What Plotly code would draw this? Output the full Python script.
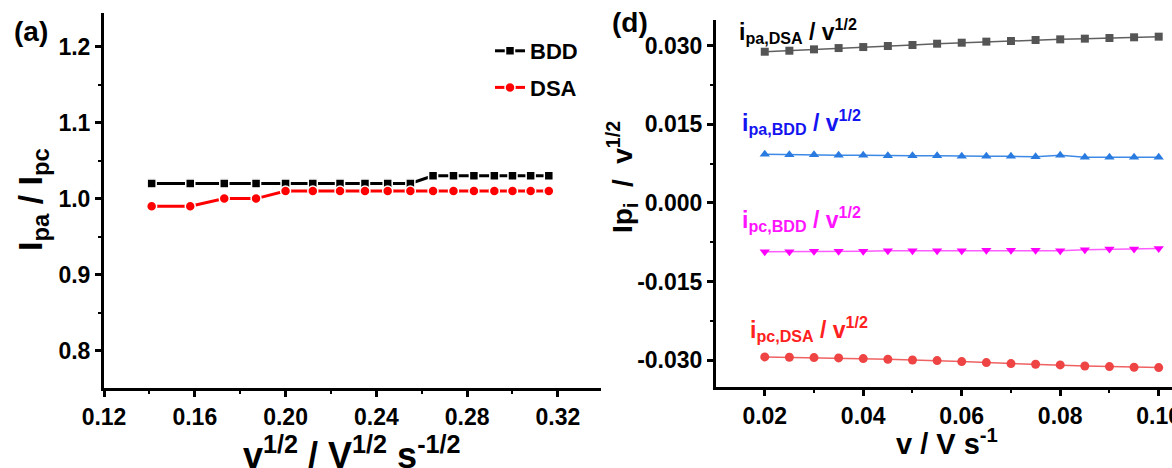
import plotly.graph_objects as go

FONT = "Liberation Sans, Arial, sans-serif"

# ---------- panel (a) data ----------
sqrt_v = [0.141, 0.158, 0.173, 0.187, 0.200, 0.212, 0.224, 0.235, 0.245,
          0.255, 0.265, 0.274, 0.283, 0.292, 0.300, 0.308, 0.316]
ratio_bdd = [1.02, 1.02, 1.02, 1.02, 1.02, 1.02, 1.02, 1.02, 1.02,
             1.02, 1.03, 1.03, 1.03, 1.03, 1.03, 1.03, 1.03]
ratio_dsa = [0.99, 0.99, 1.00, 1.00, 1.01, 1.01, 1.01, 1.01, 1.01,
             1.01, 1.01, 1.01, 1.01, 1.01, 1.01, 1.01, 1.01]

# ---------- panel (d) data ----------
scan_rate = [0.020, 0.025, 0.030, 0.035, 0.040, 0.045, 0.050, 0.055, 0.060,
             0.065, 0.070, 0.075, 0.080, 0.085, 0.090, 0.095, 0.100]
ipa_dsa = [0.02885, 0.02904, 0.02930, 0.02955, 0.02974, 0.02994, 0.03013, 0.03038, 0.03057,
           0.03077, 0.03089, 0.03109, 0.03121, 0.03134, 0.03147, 0.03160, 0.03172]
ipa_bdd = [0.0093, 0.0092, 0.0092, 0.0091, 0.0091, 0.0090, 0.0090, 0.0090, 0.0089,
           0.0089, 0.0089, 0.0088, 0.0091, 0.0087, 0.0087, 0.0087, 0.0087]
ipc_bdd = [-0.0093, -0.0093, -0.0092, -0.0092, -0.0092, -0.0091, -0.0091, -0.0091, -0.0091,
           -0.0090, -0.0090, -0.0090, -0.0091, -0.0089, -0.0088, -0.0088, -0.0087]
ipc_dsa = [-0.02936, -0.02943, -0.02949, -0.02955, -0.02968, -0.02981, -0.02994, -0.03006, -0.03026,
           -0.03045, -0.03064, -0.03077, -0.03089, -0.03109, -0.03121, -0.03134, -0.03140]

right_ytick_vals = [-0.030, -0.015, 0.000, 0.015, 0.030]
right_ytick_text = ["-0.030", "-0.015", "0.000", "0.015", "0.030"]

fig = go.Figure()

# panel (a)
fig.add_trace(go.Scatter(
    x=sqrt_v, y=ratio_bdd, mode="lines+markers", name="<b>BDD</b>",
    line=dict(color="black", width=3),
    marker=dict(symbol="square", size=9, color="black", line=dict(color="white", width=1.5)),
    xaxis="x", yaxis="y", legendgroup="a"))
fig.add_trace(go.Scatter(
    x=sqrt_v, y=ratio_dsa, mode="lines+markers", name="<b>DSA</b>",
    line=dict(color="#ff0000", width=3),
    marker=dict(symbol="circle", size=10, color="#ff0000", line=dict(color="white", width=1.5)),
    xaxis="x", yaxis="y", legendgroup="b"))

# panel (d)
fig.add_trace(go.Scatter(
    x=scan_rate, y=ipa_dsa, mode="lines+markers", showlegend=False,
    line=dict(color="#606060", width=1.5),
    marker=dict(symbol="square", size=8, color="#555555"),
    xaxis="x2", yaxis="y2"))
fig.add_trace(go.Scatter(
    x=scan_rate, y=ipa_bdd, mode="lines+markers", showlegend=False,
    line=dict(color="#3d8ae6", width=1.5),
    marker=dict(symbol="triangle-up", size=9, color="#2a7be0"),
    xaxis="x2", yaxis="y2"))
fig.add_trace(go.Scatter(
    x=scan_rate, y=ipc_bdd, mode="lines+markers", showlegend=False,
    line=dict(color="#ff5cff", width=1.5),
    marker=dict(symbol="triangle-down", size=9, color="#ff00ff"),
    xaxis="x2", yaxis="y2"))
fig.add_trace(go.Scatter(
    x=scan_rate, y=ipc_dsa, mode="lines+markers", showlegend=False,
    line=dict(color="#f06262", width=1.5),
    marker=dict(symbol="circle", size=9, color="#ee4444"),
    xaxis="x2", yaxis="y2"))

axis_common = dict(
    showline=True, linecolor="black", linewidth=3, mirror=False,
    showgrid=False, zeroline=False, automargin=False,
    ticks="outside", ticklen=6, tickwidth=2.5, tickcolor="black",
    ticklabeloverflow="allow",
    tickfont=dict(family=FONT, size=23, color="black", weight=700),
)
minor_common = dict(ticks="outside", ticklen=3, tickwidth=2, tickcolor="black")

W, H = 1172, 468
fig.update_layout(
    width=W, height=H,
    margin=dict(l=0, r=0, t=0, b=0, autoexpand=False),
    paper_bgcolor="white", plot_bgcolor="white",
    font=dict(family=FONT, color="black"),
    xaxis=dict(axis_common, domain=[104 / W, 601 / W], range=[0.12, 0.339],
               tick0=0.12, dtick=0.04, tickformat=".2f", anchor="y",
               minor=dict(minor_common, dtick=0.02)),
    yaxis=dict(axis_common, domain=[1 - 388 / H, 1 - 13 / H], range=[0.751, 1.244],
               tick0=0.8, dtick=0.1, tickformat=".1f", anchor="x",
               minor=dict(minor_common, dtick=0.05)),
    xaxis2=dict(axis_common, domain=[716 / W, 1.0], range=[0.0101, 0.1027],
                tick0=0.02, dtick=0.02, tickformat=".2f", anchor="y2",
                minor=dict(minor_common, dtick=0.01)),
    yaxis2=dict(axis_common, domain=[1 - 387 / H, 1 - 20 / H], range=[-0.0351, 0.0349],
                tickvals=right_ytick_vals, ticktext=right_ytick_text, anchor="x2",
                minor=dict(minor_common, tickvals=[-0.0225, -0.0075, 0.0075, 0.0225])),
    legend=dict(x=490 / W, y=1 - 30 / H, xanchor="left", yanchor="top",
                bgcolor="rgba(0,0,0,0)", tracegroupgap=5,
                font=dict(family=FONT, size=22, color="black")),
    showlegend=True,
)

ann = []
def add_text(text, x, y, size, color="black", angle=0, xanchor="center", yanchor="middle"):
    ann.append(dict(text=text, x=x / W, y=1 - y / H, xref="paper", yref="paper",
                    showarrow=False, textangle=angle, xanchor=xanchor, yanchor=yanchor,
                    font=dict(family=FONT, size=size, color=color)))

add_text("<b>(a)</b>", 31, 32, 28)
add_text("<b>(d)</b>", 630, 22, 28)
add_text("<b>I<sub>pa</sub> / I<sub>pc</sub></b>", 32, 200, 34, angle=-90)
add_text("<b>v<sup>1/2</sup> / V<sup>1/2</sup> s<sup>-1/2</sup></b>", 352, 453, 36)
add_text("<b>Ip<sub>i</sub>  /  v<sup>1/2</sup></b>", 622, 177, 28, angle=-90)
add_text("<b>v / V s<sup>-1</sup></b>", 947, 442, 29)
add_text("<b>i<sub>pa,DSA</sub> / v<sup>1/2</sup></b>", 737, 31, 23, "black", xanchor="left")
add_text("<b>i<sub>pa,BDD</sub> / v<sup>1/2</sup></b>", 740, 122, 23, "#1414f0", xanchor="left")
add_text("<b>i<sub>pc,BDD</sub> / v<sup>1/2</sup></b>", 740, 219, 23, "#ff14ff", xanchor="left")
add_text("<b>i<sub>pc,DSA</sub> / v<sup>1/2</sup></b>", 748, 329, 23, "#ff2020", xanchor="left")
fig.update_layout(annotations=ann)

fig.write_html("out.html")
